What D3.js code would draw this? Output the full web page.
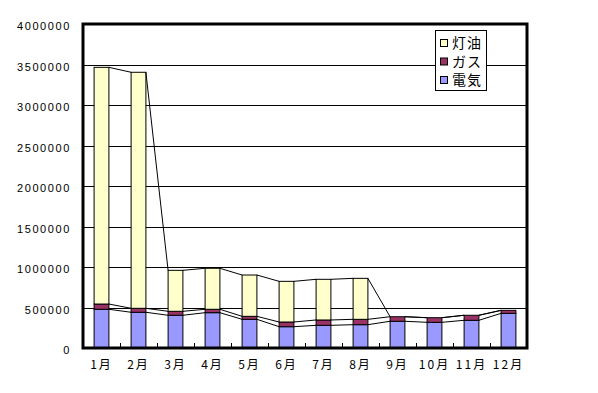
<!DOCTYPE html>
<html><head><meta charset="utf-8">
<script src="https://cdn.jsdelivr.net/npm/d3@7"></script>
<style>
html,body{margin:0;padding:0;background:#fff;}
svg{display:block;}
</style></head>
<body>
<svg id="c" width="598" height="393"></svg>
<script>
const months = ["1月","2月","3月","4月","5月","6月","7月","8月","9月","10月","11月","12月"];
const seriesNames = ["電気","ガス","灯油"];
const electric = [478000,441000,404000,436000,354000,263000,280000,288000,330000,317000,342000,428000];
const gas      = [65000, 49000, 49000, 42000, 37000, 58000, 66000, 66000, 56000, 57000, 62000, 37000];
const kerosene = [2922000,2914000,506000,506000,510000,502000,502000,506000,0,0,0,0];
const colors = ["#9999FF","#993366","#FFFFCC"];
const yTicks = [0,500000,1000000,1500000,2000000,2500000,3000000,3500000,4000000];

const svg = d3.select("#c");
const L = 83, R = 527, T = 24, B = 348;

const x = d3.scaleBand().domain(months).range([L, R]).padding(0);
const y = d3.scaleLinear().domain([0, 4000000]).range([B, T]);
const barW = x.bandwidth() / 2.5;

const data = months.map((m, i) => ({ m, 電気: electric[i], ガス: gas[i], 灯油: kerosene[i] }));
const stacked = d3.stack().keys(seriesNames)(data);

// gridlines
svg.append("g").selectAll("line").data(yTicks.slice(1, -1)).join("line")
  .attr("x1", L).attr("x2", R)
  .attr("y1", d => Math.round(y(d)) + 0.5).attr("y2", d => Math.round(y(d)) + 0.5)
  .attr("stroke", "#000").attr("stroke-width", 1);

// bars
stacked.forEach((s, si) => {
  svg.append("g").selectAll("rect").data(s).join("rect")
    .attr("x", (d, i) => x(months[i]) + (x.bandwidth() - barW) / 2)
    .attr("width", barW)
    .attr("y", d => y(d[1]))
    .attr("height", d => Math.max(0, y(d[0]) - y(d[1])))
    .attr("fill", colors[si])
    .attr("stroke", "#000").attr("stroke-width", 1)
    .attr("display", d => (d[1] - d[0]) > 0 ? null : "none");
});

// series lines
stacked.forEach((s) => {
  const segs = [];
  for (let i = 0; i < s.length - 1; i++) {
    segs.push({
      x1: x(months[i]) + (x.bandwidth() + barW) / 2,
      y1: y(s[i][1]),
      x2: x(months[i + 1]) + (x.bandwidth() - barW) / 2,
      y2: y(s[i + 1][1])
    });
  }
  svg.append("g").selectAll("line").data(segs).join("line")
    .attr("x1", d => d.x1).attr("y1", d => d.y1)
    .attr("x2", d => d.x2).attr("y2", d => d.y2)
    .attr("stroke", "#000").attr("stroke-width", 1);
});

// category ticks (inside)
svg.append("g").selectAll("line").data(months.slice(1)).join("line")
  .attr("x1", d => Math.round(x(d)) + 0.5).attr("x2", d => Math.round(x(d)) + 0.5)
  .attr("y1", B).attr("y2", B - 5)
  .attr("stroke", "#000").attr("stroke-width", 1);

// frame
svg.append("rect").attr("x", L).attr("y", T).attr("width", R - L).attr("height", B - T)
  .attr("fill", "none").attr("stroke", "#000").attr("stroke-width", 3);

// y labels
svg.append("g").selectAll("text").data(yTicks).join("text")
  .attr("x", 71).attr("y", d => y(d) + 6)
  .attr("text-anchor", "end")
  .attr("font-family", "Liberation Sans, Arial, sans-serif")
  .attr("font-size", 11).attr("letter-spacing", "1.6px")
  .attr("fill", "#000")
  .text(d => d);

// x labels
svg.append("g").selectAll("text").data(months).join("text")
  .attr("x", d => x(d) + x.bandwidth() / 2)
  .attr("y", 369)
  .attr("text-anchor", "middle")
  .attr("font-family", "Noto Sans CJK JP, sans-serif")
  .attr("font-size", 12).attr("letter-spacing", "2px")
  .attr("fill", "#000")
  .text(d => d);

// legend
const lg = svg.append("g");
lg.append("rect").attr("x", 435.5).attr("y", 30.5).attr("width", 51).attr("height", 60)
  .attr("fill", "#fff").attr("stroke", "#000").attr("stroke-width", 1);
const legendOrder = [2, 1, 0];
legendOrder.forEach((si, k) => {
  const cy = 43 + k * 18.5;
  lg.append("rect").attr("x", 440.5).attr("y", cy - 3.5).attr("width", 7).attr("height", 7)
    .attr("fill", colors[si]).attr("stroke", "#000").attr("stroke-width", 1);
  lg.append("text").attr("x", 452).attr("y", cy + 5)
    .attr("font-family", "Noto Sans CJK JP, sans-serif")
    .attr("font-size", 14).attr("letter-spacing", "1px").attr("fill", "#000")
    .text(seriesNames[si]);
});
</script>
</body></html>
